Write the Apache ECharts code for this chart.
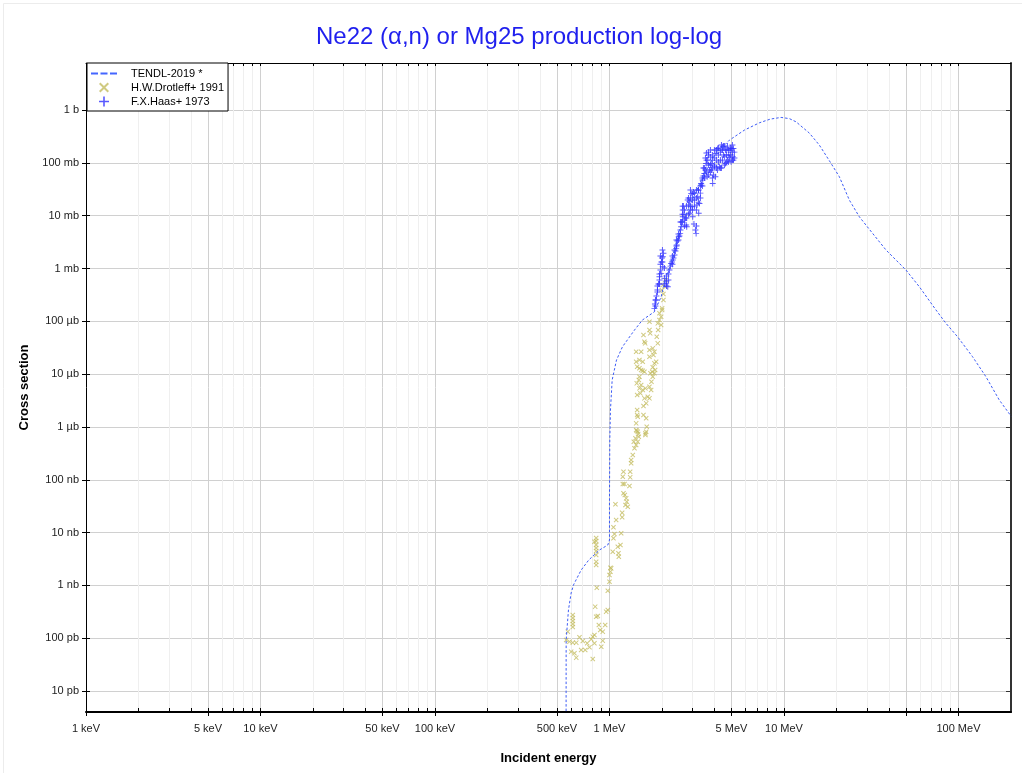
<!DOCTYPE html>
<html>
<head>
<meta charset="utf-8">
<title>Ne22 (α,n) or Mg25 production log-log</title>
<script src="https://cdn.jsdelivr.net/npm/echarts@6.0.0/dist/echarts.min.js"></script>
<style>
  html, body { margin: 0; padding: 0; background: #fff; }
  #chart { width: 1022px; height: 773px; }
</style>
</head>
<body>
<div id="chart"></div>
<script>
// energies in MeV, cross sections in barns
var tendl = [
  [0.5636, 1e-13], [0.5645, 9.25e-11], [0.582, 3.42e-10], [0.603, 7.18e-10], [0.622, 1.02e-9],
  [0.688, 1.95e-9], [0.761, 3.03e-9], [0.877, 4.68e-9], [0.978, 5.81e-9], [1.0, 7.23e-9],
  [1.0, 4.14e-8], [1.004, 5.65e-7], [1.013, 2.09e-6], [1.036, 7.73e-6], [1.097, 1.85e-5],
  [1.187, 3.30e-5], [1.391, 6.84e-5], [1.545, 1.06e-4], [1.810, 1.52e-4], [1.978, 2.92e-4],
  [2.038, 4.52e-4], [2.093, 6.05e-4], [2.295, 1.65e-3], [2.517, 5.35e-3], [2.871, 1.48e-2],
  [3.422, 5.46e-2], [4.0, 0.14], [4.868, 0.270], [5.932, 0.418], [7.229, 0.575], [8.358, 0.676],
  [9.625, 0.727], [10.74, 0.69], [11.73, 0.600], [13.98, 0.367], [15.95, 0.2175], [18.61, 0.098],
  [20.77, 0.0546], [23.69, 0.0198], [27.03, 9.55e-3], [32.21, 4.63e-3], [38.45, 2.24e-3],
  [50.04, 9.35e-4], [59.65, 4.52e-4], [74.32, 1.64e-4], [84.80, 9.16e-5], [98.81, 5.10e-5],
  [120.4, 2.14e-5], [143.7, 8.93e-6], [171.3, 3.24e-6], [198.1, 1.68e-6], [200, 1.6e-6]
];

var drotleff = [
  [0.616, 2.75e-10], [0.616, 2.41e-10], [0.616, 2.12e-10], [0.616, 1.86e-10], [0.616, 1.63e-10],
  [0.577, 1.33e-10], [0.565, 9.25e-11], [0.590, 8.59e-11], [0.616, 8.22e-11], [0.645, 8.22e-11],
  [0.603, 5.56e-11], [0.630, 5.18e-11], [0.645, 4.28e-11], [0.673, 1.04e-10], [0.703, 8.85e-11],
  [0.688, 5.98e-11], [0.726, 5.98e-11], [0.745, 8.00e-11], [0.768, 6.73e-11], [0.786, 9.53e-11],
  [0.802, 1.07e-10], [0.820, 1.15e-10], [0.820, 8.00e-11], [0.802, 4.04e-11], [0.828, 3.95e-10],
  [0.839, 2.55e-10], [0.857, 2.63e-10], [0.869, 1.78e-10], [0.885, 1.43e-10], [0.915, 1.33e-10],
  [0.897, 6.90e-11], [0.915, 8.97e-11], [0.945, 1.78e-10], [0.957, 3.18e-10], [0.978, 3.42e-10],
  [0.978, 7.93e-10], [0.846, 9.04e-10], [1.000, 1.17e-9], [1.000, 1.57e-9], [1.013, 1.82e-9],
  [1.023, 2.10e-9],
  [0.839, 7.89e-9], [0.839, 6.92e-9], [0.839, 5.82e-9], [0.839, 5.11e-9], [0.839, 4.48e-9],
  [0.839, 3.76e-9], [0.839, 2.81e-9], [0.839, 2.43e-9], [0.820, 6.71e-9],
  [1.013, 2.16e-9], [1.044, 4.34e-9], [1.054, 7.78e-9], [1.068, 9.39e-9], [1.054, 1.26e-8],
  [1.116, 5.40e-9], [1.131, 3.49e-9], [1.126, 4.05e-9], [1.156, 5.82e-9], [1.167, 9.68e-9],
  [1.092, 1.73e-8], [1.082, 3.43e-8], [1.182, 2.38e-8], [1.182, 1.95e-8], [1.203, 5.54e-8],
  [1.224, 5.14e-8], [1.246, 4.45e-8], [1.256, 3.84e-8], [1.235, 3.32e-8], [1.273, 3.09e-8],
  [1.192, 8.30e-8], [1.219, 8.30e-8], [1.302, 7.62e-8], [1.192, 1.14e-7], [1.314, 1.11e-7],
  [1.203, 1.42e-7], [1.314, 1.42e-7], [1.331, 2.05e-7], [1.331, 2.37e-7], [1.360, 2.94e-7],
  [1.391, 3.94e-7], [1.378, 5.25e-7], [1.422, 4.55e-7], [1.409, 6.09e-7], [1.452, 5.25e-7],
  [1.472, 6.53e-7], [1.452, 8.13e-7], [1.607, 7.57e-7], [1.623, 8.13e-7], [1.422, 8.75e-7],
  [1.422, 2.65e-5], [1.519, 2.65e-5], [1.422, 1.72e-5], [1.485, 1.85e-5], [1.551, 1.72e-5],
  [1.441, 1.38e-5], [1.485, 1.29e-5], [1.519, 1.20e-5], [1.551, 1.16e-5], [1.586, 1.11e-5],
  [1.485, 8.93e-6], [1.472, 7.73e-6], [1.433, 6.70e-6], [1.519, 6.22e-6], [1.485, 5.38e-6],
  [1.551, 5.00e-6], [1.607, 5.38e-6], [1.441, 4.02e-6], [1.505, 4.33e-6], [1.586, 3.48e-6],
  [1.657, 3.73e-6], [1.695, 3.48e-6], [1.623, 2.80e-6], [1.566, 2.49e-6], [1.441, 2.09e-6],
  [1.441, 1.68e-6], [1.452, 1.56e-6], [1.566, 1.68e-6], [1.623, 1.46e-6], [1.422, 1.17e-6],
  [1.635, 1.01e-6], [1.433, 8.49e-7], [1.460, 7.35e-7], [1.607, 7.03e-7],
  [1.695, 9.82e-5], [1.695, 6.84e-5], [1.711, 5.92e-5], [1.566, 5.50e-5], [1.586, 4.10e-5],
  [1.601, 3.83e-5], [1.695, 2.86e-5], [1.770, 3.08e-5], [1.810, 2.65e-5], [1.786, 2.30e-5],
  [1.695, 2.13e-5], [1.810, 1.60e-5], [1.851, 1.72e-5], [1.770, 1.35e-5], [1.827, 1.20e-5],
  [1.756, 1.11e-5], [1.717, 1.04e-5], [1.770, 8.93e-6], [1.740, 7.18e-6], [1.810, 1.04e-5],
  [1.695, 5.78e-6], [1.733, 5.00e-6], [1.901, 6.84e-5], [1.891, 9.16e-5], [1.934, 1.06e-4],
  [1.978, 1.22e-4], [1.934, 1.42e-4], [2.003, 1.64e-4], [1.978, 8.51e-5], [1.866, 5.10e-5],
  [1.891, 3.83e-5], [1.993, 3.91e-4], [2.038, 3.29e-4], [2.093, 4.52e-4], [2.093, 6.05e-4],
  [2.020, 4.86e-4], [2.003, 1.76e-4], [2.038, 2.53e-4]
];

var haas = [
  [1.810, 1.76e-4], [1.851, 2.53e-4], [1.934, 6.98e-4], [1.978, 8.09e-4], [2.020, 1.08e-3],
  [2.020, 1.67e-3], [2.038, 1.94e-3], [2.065, 6.51e-4], [2.112, 5.24e-4], [2.158, 4.52e-4],
  [2.206, 9.35e-4], [2.256, 1.25e-3], [2.304, 1.45e-3], [2.357, 1.80e-3], [2.410, 2.41e-3],
  [2.429, 2.78e-3], [2.494, 3.99e-3], [2.541, 4.63e-3], [2.575, 6.18e-3], [2.630, 1.28e-2],
  [2.630, 9.55e-3], [2.689, 8.27e-3], [2.750, 6.65e-3], [2.771, 6.18e-3], [2.808, 1.98e-2],
  [2.871, 1.84e-2], [2.871, 1.11e-2], [2.936, 2.65e-2], [2.975, 1.48e-2], [2.999, 9.55e-3],
  [3.067, 2.65e-2], [3.108, 5.35e-3], [3.137, 4.63e-3], [3.204, 2.28e-2], [3.246, 1.11e-2],
  [3.277, 1.71e-2], [3.351, 4.09e-2], [3.422, 4.73e-2], [3.500, 6.33e-2], [3.579, 9.79e-2],
  [3.627, 5.46e-2], [3.656, 0.113], [3.738, 7.31e-2], [3.823, 9.79e-2], [3.904, 4.09e-2],
  [3.993, 8.45e-2], [4.046, 5.46e-2], [4.083, 0.151], [4.171, 0.188], [4.266, 8.45e-2],
  [4.362, 0.175], [4.456, 0.202], [4.556, 0.131], [4.617, 9.79e-2], [4.697, 0.175],
  [4.822, 0.141], [4.912, 0.175], [4.977, 0.105], [5.084, 0.131],
  [1.822, 2.12e-4], [1.858, 3.01e-4], [1.883, 3.91e-4], [1.908, 5.08e-4], [1.934, 6.05e-4],
  [1.959, 9.35e-4], [1.985, 1.33e-3], [1.998, 1.58e-3], [2.121, 5.79e-4], [2.280, 1.33e-3],
  [2.326, 1.58e-3], [2.388, 2.14e-3], [2.453, 3.31e-3], [2.517, 4.12e-3], [2.585, 7.58e-3],
  [2.653, 1.52e-2], [2.671, 1.07e-2], [2.724, 9.02e-3], [2.835, 1.59e-2], [2.910, 2.16e-2],
  [2.910, 1.28e-2], [2.988, 1.98e-2], [3.028, 2.80e-2], [3.048, 6.95e-3], [3.150, 3.06e-2],
  [3.171, 1.59e-2], [3.234, 3.06e-2], [3.320, 2.68e-2], [3.364, 3.80e-2], [3.454, 5.63e-2],
  [3.454, 7.98e-2], [3.547, 0.1234], [3.547, 7.31e-2], [3.594, 0.1535], [3.690, 0.0910],
  [3.690, 0.160], [3.788, 0.129], [3.838, 7.31e-2], [3.890, 0.113], [3.941, 5.88e-2],
  [3.993, 0.175], [4.100, 0.113], [4.155, 7.31e-2], [4.210, 0.141], [4.322, 0.113],
  [4.381, 0.2175], [4.381, 7.98e-2], [4.498, 0.141], [4.498, 0.208], [4.617, 0.175],
  [4.741, 0.113], [4.741, 0.208], [4.868, 0.1234], [4.996, 0.188], [5.064, 0.160],
  [5.131, 0.113], [5.131, 0.188],
  [1.834, 2.53e-4], [1.834, 1.95e-4], [1.883, 3.58e-4], [1.883, 4.66e-4], [1.934, 7.85e-4],
  [1.934, 5.08e-4], [1.959, 1.21e-3], [1.959, 1.72e-3], [2.011, 2.24e-3], [2.011, 1.33e-3],
  [2.065, 1.02e-3], [2.065, 5.08e-4], [2.121, 7.20e-4], [2.121, 4.66e-4], [2.177, 6.05e-4],
  [2.177, 7.85e-4], [2.236, 1.11e-3], [2.295, 1.72e-3], [2.295, 1.21e-3], [2.357, 2.24e-3],
  [2.420, 2.66e-3], [2.420, 3.46e-3], [2.485, 3.46e-3], [2.485, 4.49e-3], [2.551, 5.35e-3],
  [2.551, 7.58e-3], [2.620, 1.07e-2], [2.620, 7.58e-3], [2.620, 1.52e-2], [2.689, 1.28e-2],
  [2.689, 6.37e-3], [2.761, 9.02e-3], [2.761, 1.52e-2], [2.835, 2.16e-2], [2.835, 1.07e-2],
  [2.910, 3.06e-2], [2.910, 1.52e-2], [2.988, 2.57e-2], [2.988, 1.28e-2], [3.067, 1.98e-2],
  [3.067, 1.52e-2], [3.150, 2.16e-2], [3.150, 6.37e-3], [3.150, 1.28e-2], [3.234, 1.81e-2],
  [3.234, 3.06e-2], [3.320, 3.64e-2], [3.320, 2.16e-2], [3.409, 5.16e-2], [3.409, 3.64e-2],
  [3.500, 7.98e-2], [3.500, 5.16e-2], [3.594, 0.113], [3.594, 0.067], [3.690, 0.141],
  [3.690, 0.0588], [3.788, 0.175], [3.788, 0.091], [3.788, 0.067], [3.890, 0.141],
  [3.890, 0.0798], [3.890, 0.0516], [3.993, 0.1234], [3.993, 0.091], [4.100, 0.175],
  [4.100, 0.0798], [4.210, 0.191], [4.210, 0.1036], [4.322, 0.160], [4.322, 0.0798],
  [4.439, 0.175], [4.439, 0.113], [4.556, 0.208], [4.556, 0.091], [4.678, 0.141],
  [4.678, 0.1036], [4.803, 0.175], [4.803, 0.1036], [4.932, 0.191], [4.932, 0.141],
  [5.064, 0.113], [5.064, 0.2175], [5.199, 0.160], [5.199, 0.1234]
];

var seriesNames = ['TENDL-2019 *', 'H.W.Drotleff+ 1991', 'F.X.Haas+ 1973'];

var xMajorTicks = [0.001, 0.005, 0.01, 0.05, 0.1, 0.5, 1, 5, 10, 50, 100];
var xLabelTicks = [0.001, 0.005, 0.01, 0.05, 0.1, 0.5, 1, 5, 10, 100];
var xMinorTicks = [
  0.002, 0.003, 0.004, 0.006, 0.007, 0.008, 0.009,
  0.02, 0.03, 0.04, 0.06, 0.07, 0.08, 0.09,
  0.2, 0.3, 0.4, 0.6, 0.7, 0.8, 0.9,
  2, 3, 4, 6, 7, 8, 9,
  20, 30, 40, 60, 70, 80, 90
];
var yTicks = [1e-11, 1e-10, 1e-9, 1e-8, 1e-7, 1e-6, 1e-5, 1e-4, 1e-3, 1e-2, 1e-1, 1];

var FONT = '"Liberation Sans", Arial, Helvetica, sans-serif';
var X_MIN = 0.001, X_MAX = 200;
var Y_MIN = 4e-12, Y_MAX = 7.8;

var crossIcon = 'path://M0,1.4L1.4,0L5,3.6L8.6,0L10,1.4L6.4,5L10,8.6L8.6,10L5,6.4L1.4,10L0,8.6L3.6,5Z';
var plusIcon = 'path://M4.2,0H5.8V4.2H10V5.8H5.8V10H4.2V5.8H0V4.2H4.2Z';
var dashIcon = 'path://M0,0H7V2H0Z M9.5,0H16.5V2H9.5Z M19,0H26V2H19Z';

function energyLabel(v) {
  if (v < 1) return Math.round(v * 1000) + ' keV';
  return Math.round(v) + ' MeV';
}

function xsLabel(v) {
  var p = Math.round(Math.log10(v));
  var units = ['b', 'mb', 'µb', 'nb', 'pb'];
  var k = Math.ceil(-p / 3);
  return Math.round(Math.pow(10, p + 3 * k)) + ' ' + units[k];
}

function xAx(extra) {
  return Object.assign({
    type: 'log', logBase: 10, min: X_MIN, max: X_MAX, gridIndex: 0, offset: 0,
    axisLine: { show: false },
    axisTick: { show: false },
    axisLabel: { show: false },
    splitLine: { show: false }
  }, extra);
}

function yAx(extra) {
  return Object.assign({
    type: 'log', logBase: 10, min: Y_MIN, max: Y_MAX, gridIndex: 0, offset: 0,
    axisLine: { show: false },
    axisTick: { show: false },
    axisLabel: { show: false },
    splitLine: { show: false }
  }, extra);
}

var chart = echarts.init(document.getElementById('chart'), null, { renderer: 'canvas' });

var option = {
  backgroundColor: '#fff',
  animation: false,
  textStyle: { fontFamily: FONT },
  title: {
    text: 'Ne22 (α,n) or Mg25 production log-log',
    left: 311, top: 20,
    textStyle: { fontFamily: FONT, fontSize: 24, fontWeight: 'normal', color: '#1f1fee' }
  },
  graphic: [{
    type: 'rect', left: 1, top: 1, silent: true,
    shape: { width: 1019, height: 770 },
    style: { fill: 'none', stroke: '#ececec', lineWidth: 1 }
  }],
  legend: {
    orient: 'vertical', left: 87, top: 63,
    itemWidth: 26, itemHeight: 10, itemGap: 3,
    padding: [5, 4, 4, 4],
    backgroundColor: '#fff', borderColor: '#000', borderWidth: 1, borderRadius: 0,
    textStyle: { fontFamily: FONT, fontSize: 11, color: '#000', padding: [0, 0, 0, 9] },
    data: [
      { name: seriesNames[0], icon: dashIcon, itemStyle: { color: '#4466ff' } },
      { name: seriesNames[1], icon: crossIcon },
      { name: seriesNames[2], icon: plusIcon }
    ]
  },
  grid: { left: 86, right: 11, top: 63, bottom: 61, containLabel: false },
  xAxis: [
    xAx({
      position: 'bottom',
      name: 'Incident energy', nameLocation: 'middle', nameGap: 40,
      nameTextStyle: { fontFamily: FONT, fontSize: 13, fontWeight: 'bold', color: '#000' },
      axisLine: { show: true, onZero: false, lineStyle: { color: '#000', width: 2 } },
      axisTick: { show: true, inside: false, length: 4, customValues: xMajorTicks, lineStyle: { color: '#000' } },
      axisLabel: { show: true, customValues: xLabelTicks, formatter: energyLabel, margin: 11,
        fontFamily: FONT, fontSize: 11, color: '#222' },
      splitLine: { show: true, lineStyle: { color: '#d0d0d0', width: 1 } }
    }),
    xAx({
      position: 'bottom',
      axisTick: { show: true, inside: true, length: 4, customValues: xMinorTicks, lineStyle: { color: '#000' } },
      splitLine: { show: true, lineStyle: { color: '#efefef', width: 1 } }
    }),
    xAx({
      position: 'bottom',
      axisTick: { show: true, inside: true, length: 4, customValues: xMajorTicks, lineStyle: { color: '#000' } }
    }),
    xAx({
      position: 'top',
      axisLine: { show: true, onZero: false, lineStyle: { color: '#000', width: 1 } },
      axisTick: { show: true, inside: true, length: 3, customValues: xMajorTicks.concat(xMinorTicks), lineStyle: { color: '#000' } }
    })
  ],
  yAxis: [
    yAx({
      position: 'left',
      name: 'Cross section', nameLocation: 'middle', nameGap: 52,
      nameTextStyle: { fontFamily: FONT, fontSize: 13, fontWeight: 'bold', color: '#000' },
      axisLine: { show: true, onZero: false, lineStyle: { color: '#000', width: 1 } },
      axisTick: { show: true, inside: false, length: 4, customValues: yTicks, lineStyle: { color: '#000' } },
      axisLabel: { show: true, customValues: yTicks, formatter: xsLabel, margin: 7,
        fontFamily: FONT, fontSize: 11, color: '#222' },
      splitLine: { show: true, lineStyle: { color: '#d0d0d0', width: 1 } }
    }),
    yAx({
      position: 'left',
      axisTick: { show: true, inside: true, length: 4, customValues: yTicks, lineStyle: { color: '#000' } }
    }),
    yAx({
      position: 'right',
      axisLine: { show: true, onZero: false, lineStyle: { color: '#333', width: 2 } },
      axisTick: { show: true, inside: true, length: 5, customValues: yTicks, lineStyle: { color: '#333' } }
    })
  ],
  series: [
    {
      name: seriesNames[0], type: 'line', data: tendl,
      xAxisIndex: 0, yAxisIndex: 0,
      symbol: 'none', showSymbol: false, clip: true, z: 5,
      itemStyle: { color: '#3d5cf5' },
      lineStyle: { color: '#3d5cf5', width: 1, type: [2.5, 2] }
    },
    {
      name: seriesNames[1], type: 'scatter', data: drotleff,
      xAxisIndex: 0, yAxisIndex: 0,
      symbol: crossIcon, symbolSize: 5, symbolKeepAspect: true, clip: true, z: 3,
      itemStyle: { color: '#c4bd62' }
    },
    {
      name: seriesNames[2], type: 'scatter', data: haas,
      xAxisIndex: 0, yAxisIndex: 0,
      symbol: plusIcon, symbolSize: 6, symbolKeepAspect: true, clip: true, z: 4,
      itemStyle: { color: '#2f2fff' }
    }
  ]
};

chart.setOption(option);
</script>
</body>
</html>
